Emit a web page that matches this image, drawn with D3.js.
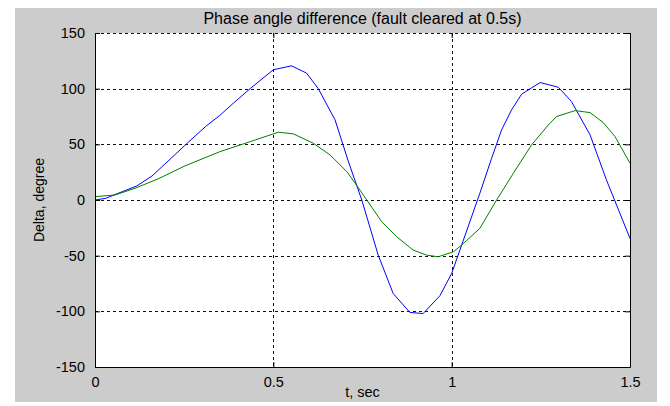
<!DOCTYPE html>
<html>
<head>
<meta charset="utf-8">
<script src="https://cdn.jsdelivr.net/npm/d3@7"></script>
<style>
  html, body { margin: 0; padding: 0; background: #ffffff; }
  svg { display: block; }
  text { font-family: "Liberation Sans", Arial, sans-serif; fill: #000; }
</style>
</head>
<body>
<svg id="chart" width="670" height="406"></svg>
<script>
// ---- data ----
const titleText = "Phase angle difference (fault cleared at 0.5s)";
const xLabel = "t, sec";
const yLabel = "Delta, degree";
const xTicks = [0, 0.5, 1, 1.5];
const xTickLabels = ["0", "0.5", "1", "1.5"];
const yTicks = [-150, -100, -50, 0, 50, 100, 150];
const yTickLabels = ["-150", "-100", "-50", "0", "50", "100", "150"];

const tBlue = [0, 0.03, 0.065, 0.117, 0.16, 0.215, 0.262, 0.31, 0.35, 0.388, 0.435, 0.5, 0.551, 0.593, 0.626, 0.673, 0.71, 0.748, 0.794, 0.836, 0.883, 0.92, 0.967, 1.0, 1.028, 1.079, 1.112, 1.14, 1.168, 1.196, 1.248, 1.299, 1.336, 1.388, 1.434, 1.5];
const deltaBlue = [0, 1.5, 6, 12.6, 21.6, 38, 52, 66, 76, 87, 100, 117, 120.5, 114, 100, 72, 35, 0, -49.5, -84, -101, -102, -86, -66, -40.5, 6, 37.5, 63, 81, 95, 105.5, 101.3, 88.4, 58.5, 18, -34.5];

const tGreen = [0, 0.056, 0.112, 0.177, 0.252, 0.35, 0.435, 0.514, 0.556, 0.612, 0.659, 0.706, 0.734, 0.762, 0.804, 0.846, 0.892, 0.93, 0.962, 1.005, 1.028, 1.079, 1.126, 1.173, 1.224, 1.271, 1.294, 1.346, 1.388, 1.425, 1.458, 1.5];
const deltaGreen = [3, 4.5, 10.5, 19, 30.6, 43.4, 52.4, 60.9, 59.4, 51, 40.5, 25.5, 13, 0, -19.5, -33, -45, -49.5, -51, -46.5, -40.5, -25.5, 0, 24, 49.5, 67.4, 75, 80.3, 78.5, 69.5, 57, 33];

const seriesColors = ["#0000ff", "#008000"];

// ---- layout ----
const svg = d3.select("#chart");
const plot = { left: 95, right: 630, top: 33, bottom: 367 };

svg.append("rect").attr("x", 15).attr("y", 8).attr("width", 642).attr("height", 394)
  .attr("fill", "#cccccc");

const x = d3.scaleLinear().domain([0, 1.5]).range([plot.left, plot.right]);
const y = d3.scaleLinear().domain([-150, 150]).range([plot.bottom, plot.top]);

svg.append("rect").attr("x", plot.left).attr("y", plot.top)
  .attr("width", plot.right - plot.left).attr("height", plot.bottom - plot.top)
  .attr("fill", "#ffffff");

// grid
const grid = svg.append("g").attr("stroke", "#111").attr("stroke-width", 1)
  .attr("stroke-dasharray", "3,3").attr("shape-rendering", "crispEdges");
grid.selectAll("line.h").data(yTicks.filter(d => d > -150)).enter().append("line")
  .attr("x1", plot.left).attr("x2", plot.right)
  .attr("y1", d => Math.round(y(d)) + 0.5).attr("y2", d => Math.round(y(d)) + 0.5);
grid.selectAll("line.v").data(xTicks.filter(d => d > 0 && d < 1.5)).enter().append("line")
  .attr("y1", plot.top).attr("y2", plot.bottom)
  .attr("x1", d => Math.round(x(d)) + 0.5).attr("x2", d => Math.round(x(d)) + 0.5);

// series lines
const line = d3.line().x(d => x(d[0])).y(d => y(d[1]));
const series = [d3.zip(tBlue, deltaBlue), d3.zip(tGreen, deltaGreen)];
svg.append("defs").append("clipPath").attr("id", "clip").append("rect")
  .attr("x", plot.left).attr("y", plot.top)
  .attr("width", plot.right - plot.left).attr("height", plot.bottom - plot.top);
svg.append("g").attr("clip-path", "url(#clip)").selectAll("path").data(series).enter()
  .append("path").attr("d", line).attr("fill", "none")
  .attr("stroke", (d, i) => seriesColors[i]).attr("stroke-width", 1);

// axes (MATLAB style: inward ticks, box)
const tickLen = 5;
const xAxisB = d3.axisBottom(x).tickValues(xTicks).tickFormat((d, i) => xTickLabels[i])
  .tickSizeInner(-tickLen).tickSizeOuter(0).tickPadding(10);
const yAxisL = d3.axisLeft(y).tickValues(yTicks).tickFormat((d, i) => yTickLabels[i])
  .tickSizeInner(-tickLen).tickSizeOuter(0).tickPadding(10);
const xAxisT = d3.axisTop(x).tickValues(xTicks).tickFormat("").tickSizeInner(-tickLen).tickSizeOuter(0);
const yAxisR = d3.axisRight(y).tickValues(yTicks).tickFormat("").tickSizeInner(-tickLen).tickSizeOuter(0);

function styleAxis(g) {
  g.select(".domain").attr("stroke", "#000");
  g.selectAll(".tick line").attr("stroke", "#000");
  g.selectAll(".tick text").attr("font-size", 14.5).attr("fill", "#000")
    .attr("font-family", "Liberation Sans, Arial, sans-serif");
}
svg.append("g").attr("transform", `translate(0,${plot.bottom})`).call(xAxisB).call(styleAxis);
svg.append("g").attr("transform", `translate(${plot.left},0)`).call(yAxisL).call(styleAxis);
svg.append("g").attr("transform", `translate(0,${plot.top})`).call(xAxisT).call(styleAxis)
  .select(".domain").remove();
svg.append("g").attr("transform", `translate(${plot.right},0)`).call(yAxisR).call(styleAxis);

// labels
svg.append("text").attr("x", (plot.left + plot.right) / 2).attr("y", 24)
  .attr("text-anchor", "middle").attr("font-size", 16).text(titleText);
svg.append("text").attr("x", (plot.left + plot.right) / 2).attr("y", 397)
  .attr("text-anchor", "middle").attr("font-size", 14.5).text(xLabel);
svg.append("text").attr("transform", `translate(44,${(plot.top + plot.bottom) / 2}) rotate(-90)`)
  .attr("text-anchor", "middle").attr("font-size", 14).text(yLabel);
</script>
</body>
</html>
